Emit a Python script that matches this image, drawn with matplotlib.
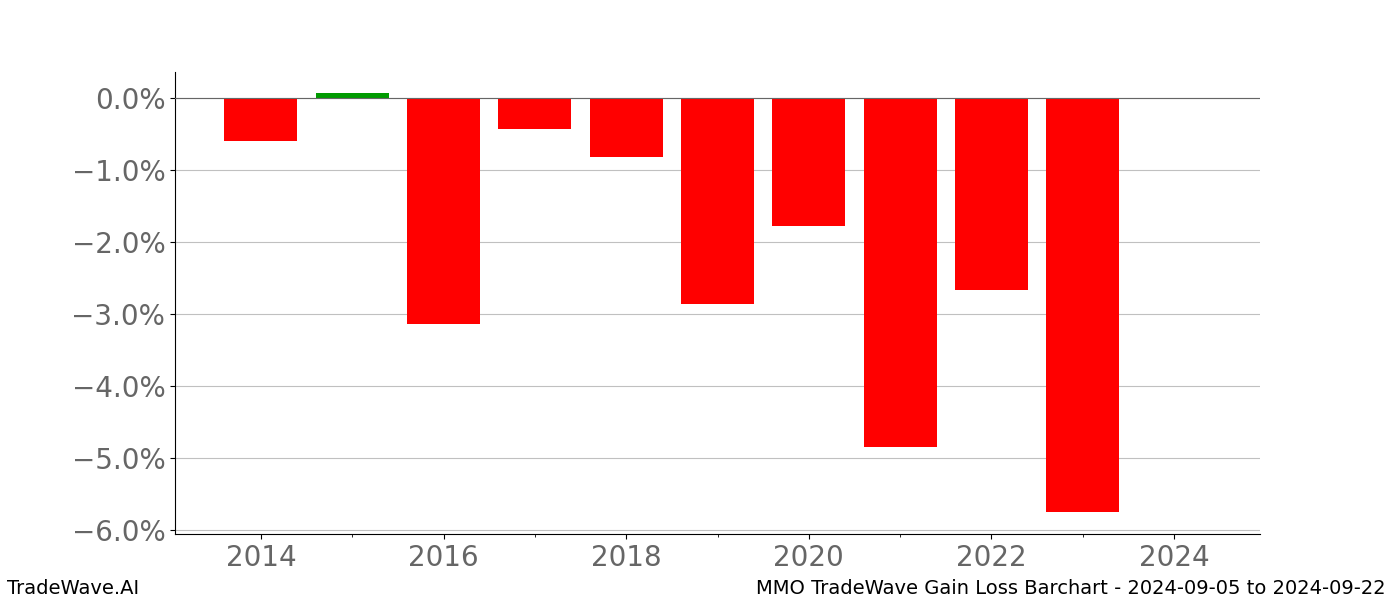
import matplotlib
matplotlib.use('Agg')
import matplotlib.pyplot as plt
from matplotlib.ticker import FuncFormatter

years = [2014, 2015, 2016, 2017, 2018, 2019, 2020, 2021, 2022, 2023]
gains = [-0.60, 0.07, -3.14, -0.43, -0.82, -2.86, -1.78, -4.85, -2.67, -5.76]

title = 'MMO TradeWave Gain Loss Barchart - 2024-09-05 to 2024-09-22'

fig, ax = plt.subplots(figsize=(14, 6), dpi=100)
colors = ['#009a00' if g > 0 else 'red' for g in gains]
ax.bar(years, gains, width=0.8, color=colors, zorder=3)
ax.axhline(0, color='#666666', linewidth=0.8, zorder=4)

ax.set_xlim(2013.06, 2024.94)
ax.set_ylim(-6.06, 0.36)
ax.set_yticks([0, -1, -2, -3, -4, -5, -6])
ax.yaxis.set_major_formatter(FuncFormatter(lambda v, p: f'{v:.1f}%'.replace('-', '\u2212')))
ax.set_xticks(range(2014, 2025, 2))
ax.set_xticks(range(2015, 2025, 2), minor=True)
ax.tick_params(axis='both', labelsize=20, colors='#666666', labelcolor='#666666')
ax.tick_params(axis='x', which='both', color='black')
ax.tick_params(axis='y', color='black')
ax.grid(axis='y', color='#c0c0c0', linewidth=0.8, zorder=0)
ax.spines['top'].set_visible(False)
ax.spines['right'].set_visible(False)

fig.text(0.005, 0.019, 'TradeWave.AI', fontsize=14, ha='left', va='center')
fig.text(0.99, 0.019, title, fontsize=14, ha='right', va='center')

fig.subplots_adjust(left=0.125, right=0.9, top=0.88, bottom=0.11)
fig.savefig('out.png')
